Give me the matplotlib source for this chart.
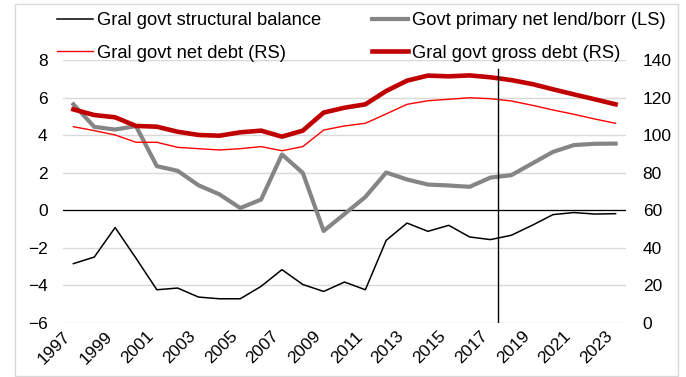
import matplotlib.pyplot as plt
from matplotlib.patches import Rectangle

plt.rcParams['font.family'] = ['Liberation Sans', 'DejaVu Sans']

years = list(range(1997, 2024))

# left scale (% of GDP)
structural_balance = [-2.84, -2.49, -0.92, -2.55, -4.23, -4.14, -4.62, -4.71, -4.71, -4.05,
                      -3.16, -3.95, -4.32, -3.82, -4.23, -1.60, -0.68, -1.12, -0.80, -1.42,
                      -1.56, -1.33, -0.80, -0.23, -0.12, -0.20, -0.18]
primary_lend_borr = [5.64, 4.44, 4.30, 4.48, 2.35, 2.10, 1.33, 0.85, 0.12, 0.57,
                     2.97, 1.99, -1.10, -0.20, 0.71, 2.01, 1.64, 1.37, 1.32, 1.25,
                     1.74, 1.87, 2.49, 3.11, 3.47, 3.54, 3.55]

# right scale (% of GDP)
net_debt = [104.5, 102.4, 100.1, 96.2, 96.2, 93.5, 92.8, 92.1, 92.8, 93.9,
            91.7, 93.9, 102.7, 104.9, 106.3, 111.3, 116.4, 118.3, 119.1, 119.9,
            119.4, 118.2, 115.9, 113.4, 111.1, 108.6, 106.3]
gross_debt = [113.7, 110.7, 109.5, 104.9, 104.5, 101.8, 100.1, 99.7, 101.5, 102.4,
              99.2, 102.4, 112.0, 114.6, 116.4, 123.5, 129.0, 131.7, 131.3, 131.8,
              130.8, 129.3, 127.2, 124.4, 121.7, 119.1, 116.4]

forecast_start = 2017.35
tick_years = years[::2]

fig = plt.figure(figsize=(6.86, 3.77), dpi=100)
ax = fig.add_axes([63 / 686, 1 - 323 / 377, (626 - 63) / 686, (323 - 60) / 377])
ax2 = ax.twinx()

# chart border
fig.patches.append(Rectangle((15 / 686, 1 - 376 / 377), (678 - 15) / 686, (376 - 4) / 377,
                             transform=fig.transFigure, fill=False,
                             edgecolor='#d9d9d9', lw=1))

ax.set_ylim(-6, 8)
ax.set_yticks(range(-6, 9, 2))
ax2.set_ylim(0, 140)
ax2.set_yticks(range(0, 141, 20))
ax.set_xlim(1996.5, 2023.5)
ax.set_xticks(tick_years)
ax.set_xticklabels([str(y) for y in tick_years], rotation=45, ha='right')

for a in (ax, ax2):
    for s in a.spines.values():
        s.set_visible(False)
    a.tick_params(length=0, labelsize=12.5)
ax.tick_params(axis='y', pad=11)
ax.tick_params(axis='x', pad=4)
ax2.tick_params(axis='y', pad=12)

ax.grid(axis='y', color='#d9d9d9', lw=1)
ax.set_axisbelow(True)
ax.axhline(0, color='black', lw=0.9, zorder=1)

l1, = ax.plot(years, structural_balance, color='black', lw=1.1, label='Gral govt structural balance', zorder=3)
l2, = ax.plot(years, primary_lend_borr, color='#858585', lw=3.0, label='Govt primary net lend/borr (LS)', zorder=2)
l3, = ax2.plot(years, net_debt, color='#ff0000', lw=1.0, label='Gral govt net debt (RS)')
l4, = ax2.plot(years, gross_debt, color='#c00000', lw=3.3, label='Gral govt gross debt (RS)')
ax2.axvline(forecast_start, 0, 0.966, color='black', lw=1.0)

fig.legend([l1, l3, l2, l4], [h.get_label() for h in (l1, l3, l2, l4)],
           ncol=2, loc='upper left', bbox_to_anchor=(57 / 686, 1 - 12 / 377),
           frameon=False, fontsize=13.2, handlelength=1.95, handletextpad=0.25,
           columnspacing=2.75, labelspacing=0.85, borderpad=0, borderaxespad=0)

fig.savefig('out.png', dpi=100)
